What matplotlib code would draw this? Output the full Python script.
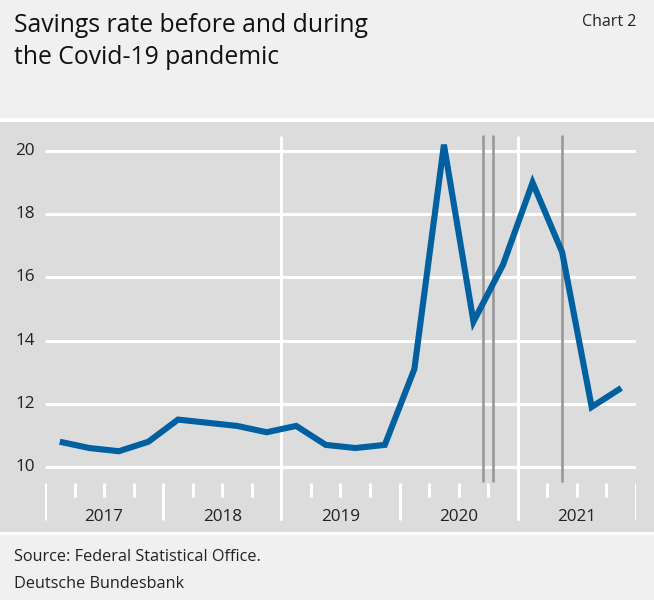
import matplotlib
matplotlib.use("Agg")
import matplotlib.pyplot as plt
import matplotlib.patches as mpatches
import numpy as np

plt.rcParams['font.family'] = ['Open Sans', 'DejaVu Sans']

# ---- data ----
years = [2017, 2018, 2019, 2020, 2021]
year_labels = ['2017', '2018', '2019', '2020', '2021']
savings_rate = [10.8, 10.6, 10.5, 10.8,
                11.5, 11.4, 11.3, 11.1,
                11.3, 10.7, 10.6, 10.7,
                13.1, 20.2, 14.6, 16.4,
                19.0, 16.8, 11.9, 12.5]
y_ticks = [10, 12, 14, 16, 18, 20]
marker_lines = [2020.706, 2020.791, 2021.375]   # grey vertical markers
white_lines = [2019, 2021]

W, H = 654, 600
fig = plt.figure(figsize=(W / 100, H / 100), dpi=100)
fig.patch.set_facecolor('white')

def px_rect(x0, y0, x1, y1, color):
    fig.patches.append(mpatches.Rectangle((x0 / W, 1 - y1 / H), (x1 - x0) / W, (y1 - y0) / H,
                                          transform=fig.transFigure, facecolor=color,
                                          edgecolor='none', zorder=-5))

px_rect(0, 0, W, 118, '#f0f0f0')
px_rect(0, 122, W, 532, '#dcdcdc')
px_rect(0, 535, W, H, '#f0f0f0')

# axes: x from 45 to 636 px, y from 130 to 525 px
ax_l, ax_r, ax_t, ax_b = 45, 636, 130, 525
ax = fig.add_axes([ax_l / W, 1 - ax_b / H, (ax_r - ax_l) / W, (ax_b - ax_t) / H])
ax.set_facecolor('none')
ax.set_zorder(1)
ppu = 31.6
y_top = 20 + (151 - ax_t) / ppu
y_bot = 10 - (ax_b - 467) / ppu
ax.set_ylim(y_bot, y_top)
ax.set_xlim(2017, 2022)
for s in ax.spines.values():
    s.set_visible(False)

def yv(py):
    return 10 - (py - 467) / ppu

# horizontal gridlines
for t in y_ticks:
    ax.plot([2017, 2022], [t, t], color='white', lw=2.2, solid_capstyle='butt', zorder=1)

# white vertical lines
for x in white_lines:
    ax.plot([x, x], [yv(520), yv(136)], color='white', lw=2.2, solid_capstyle='butt', zorder=1)

# tick marks
for yr in years + [2022]:
    ax.plot([yr, yr], [yv(520), yv(483)], color='white', lw=2.2, solid_capstyle='butt', zorder=1)
    if yr < 2022:
        for q in (1, 2, 3):
            x = yr + q * 0.25
            ax.plot([x, x], [yv(497), yv(483)], color='white', lw=2.2, solid_capstyle='butt', zorder=1)

# grey marker lines
for x in marker_lines:
    ax.plot([x, x], [yv(482), yv(135)], color='#999999', lw=1.9, solid_capstyle='butt', zorder=2)

# data line
xq = np.array([y + 0.125 + 0.25 * q for y in years for q in range(4)])
ax.plot(xq, savings_rate, color='#0060a0', lw=4.4, solid_joinstyle='miter', solid_capstyle='butt', zorder=3)

ax.set_xticks([])
ax.set_yticks([])

# y tick labels
for t in y_ticks:
    ax.text(2017 - 10 / 118, t, str(t), ha='right', va='center', fontsize=12.3, color='#222222',
            clip_on=False)

# year labels
for yr, lab in zip(years, year_labels):
    ax.text(yr + 0.5, yv(517), lab, ha='center', va='center', fontsize=12.3, color='#222222')

# titles and notes
fig.text(14 / W, 1 - 25 / H, 'Savings rate before and during', ha='left', va='center',
         fontsize=17.8, fontweight='medium', color='#111111')
fig.text(14 / W, 1 - 57 / H, 'the Covid-19 pandemic', ha='left', va='center',
         fontsize=17.8, fontweight='medium', color='#111111')
fig.text(636 / W, 1 - 22 / H, 'Chart 2', ha='right', va='center', fontsize=11.5, color='#222222')
fig.text(14 / W, 1 - 557 / H, 'Source: Federal Statistical Office.', ha='left', va='center',
         fontsize=11.7, color='#222222')
fig.text(14 / W, 1 - 584 / H, 'Deutsche Bundesbank', ha='left', va='center',
         fontsize=11.7, color='#222222')

fig.savefig('out.png', dpi=100, facecolor=fig.get_facecolor())
